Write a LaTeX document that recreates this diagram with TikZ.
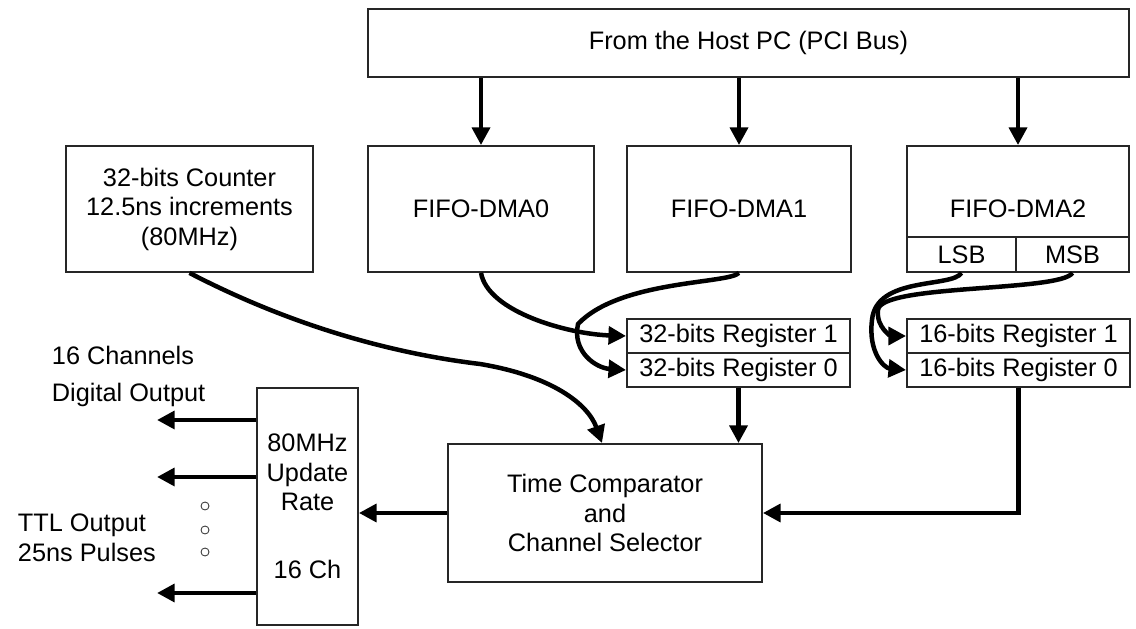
\documentclass[tikz,border=0pt]{standalone}
\usepackage{fontspec}
\setmainfont{Liberation Sans}
\usetikzlibrary{arrows.meta}

\begin{document}
\begin{tikzpicture}[
    box/.style={rectangle, draw=black!85, line width=1.3pt, fill=white, inner sep=0pt, align=center, font=\fontsize{18}{21}\selectfont},
    flow/.style={line width=3.2pt, -{Triangle[length=0.44cm,width=0.44cm]}},
    dot/.style={circle, draw=black!80, line width=0.6pt, inner sep=0pt, minimum size=0.2cm}
]
    \useasboundingbox (0,0) rectangle (28.4,15.7);

    % Blocs du haut
    \node[box, minimum width=19.03cm, minimum height=1.7cm] (host) at (18.71,14.625) {From the Host PC (PCI Bus)};
    \node[box, minimum width=6.175cm, minimum height=3.15cm] (counter) at (4.7375,10.475) {32-bits Counter\\12.5ns increments\\(80MHz)};
    \node[box, minimum width=5.65cm, minimum height=3.15cm] (fifo0) at (12.025,10.475) {FIFO-DMA0};
    \node[box, minimum width=5.6cm, minimum height=3.15cm] (fifo1) at (18.475,10.475) {FIFO-DMA1};
    \node[box, minimum width=5.55cm, minimum height=3.15cm] (fifo2) at (25.45,10.475) {FIFO-DMA2};
    \node[box, minimum width=2.725cm, minimum height=0.875cm] (lsb) at (24.0375,9.3375) {LSB};
    \node[box, minimum width=2.825cm, minimum height=0.875cm] (msb) at (26.8125,9.3375) {MSB};

    % Registres
    \node[box, minimum width=5.575cm, minimum height=0.85cm] (reg32a) at (18.4625,7.3) {32-bits Register 1};
    \node[box, minimum width=5.575cm, minimum height=0.85cm] (reg32b) at (18.4625,6.45) {32-bits Register 0};
    \node[box, minimum width=5.575cm, minimum height=0.85cm] (reg16a) at (25.4625,7.3) {16-bits Register 1};
    \node[box, minimum width=5.575cm, minimum height=0.85cm] (reg16b) at (25.4625,6.45) {16-bits Register 0};

    % Blocs du bas
    \node[box, minimum width=7.85cm, minimum height=3.45cm] (comp) at (15.125,2.875) {Time Comparator\\and\\Channel Selector};
    \node[box, minimum width=2.525cm, minimum height=5.925cm] (rate) at (7.6875,3.0375) {80MHz\\Update\\Rate\\[0.95cm]16 Ch};

    % Textes des sorties
    \node[anchor=west, align=left, font=\fontsize{18}{21}\selectfont] (lblout) at (1.175,6.2875) {16 Channels\\[5pt]Digital Output};
    \node[anchor=west, align=left, font=\fontsize{18}{21}\selectfont] (lblttl) at (0.325,2.25) {TTL Output\\25ns Pulses};
    \foreach \i/\y in {1/3.05, 2/2.45, 3/1.9}
        \node[dot] (d\i) at (5.125,\y) {};

    % Liaisons depuis le bus
    \draw[flow] (host.south -| fifo0) -- (fifo0.north);
    \draw[flow] (host.south -| fifo1) -- (fifo1.north);
    \draw[flow] (host.south -| fifo2) -- (fifo2.north);

    % Liaisons vers les registres
    \draw[flow] (fifo0.south) .. controls (12.2,7.9) and (14.2,7.35) .. (reg32a.west);
    \draw[flow] (fifo1.south) .. controls (18.2,8.6) and (15.5,8.7) .. (14.45,7.6) .. controls (14.3,6.9) and (14.9,6.5) .. (reg32b.west);
    \draw[flow] (msb.south) .. controls (26.5,8.4) and (22,8.6) .. (21.95,7.95) .. controls (21.9,7.5) and (22.3,7.3) .. (reg16a.west);
    \draw[flow] (lsb.south) .. controls (23.8,8.5) and (21.9,8.8) .. (21.8,7.7) .. controls (21.7,6.9) and (22.1,6.5) .. (reg16b.west);

    % Liaisons vers le comparateur
    \draw[flow] (counter.south) .. controls (7,7.7) and (9.5,6.9) .. (12,6.6) .. controls (13.8,6.3) and (14.7,5.6) .. ([xshift=-0.075cm]comp.north);
    \draw[flow] (reg32b.south) -- (reg32b.south |- comp.north);
    \draw[flow] (reg16b.south) |- (comp.east);
    \draw[flow] (comp.west) -- (comp.west -| rate.east);

    % Sorties
    \coordinate (o1) at (3.925,5.2);
    \coordinate (o2) at (3.925,3.775);
    \coordinate (o3) at (3.925,0.875);
    \foreach \o in {o1,o2,o3}
        \draw[flow] (rate.west |- \o) -- (\o);

\end{tikzpicture}
\end{document}
